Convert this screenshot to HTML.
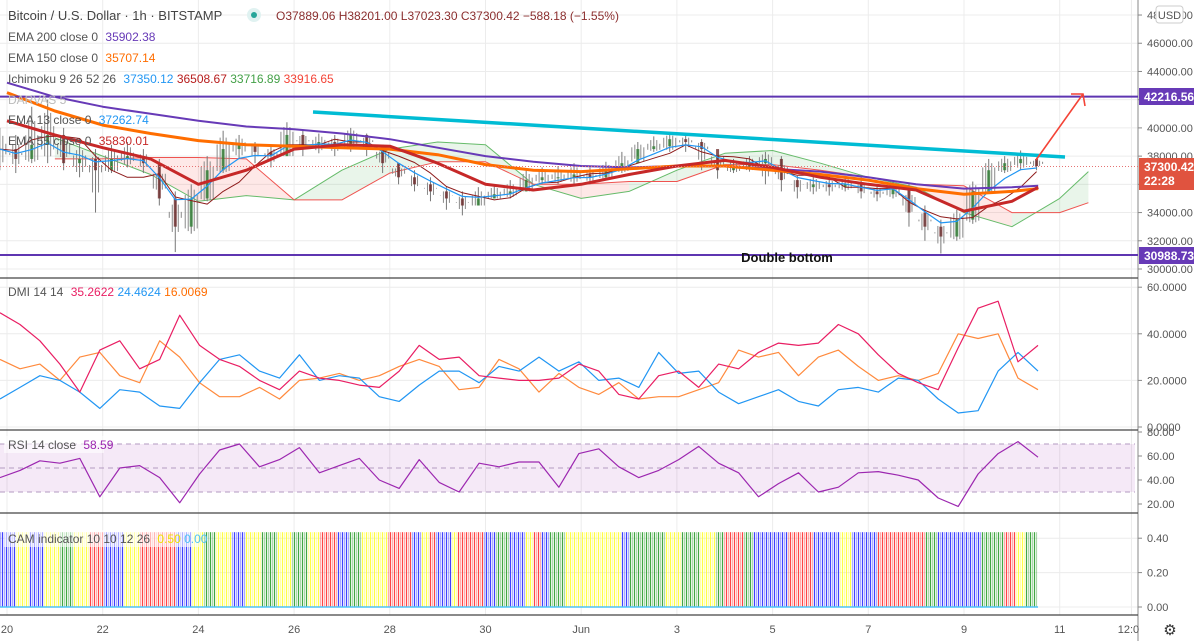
<!DOCTYPE html>
<html><head><meta charset="utf-8"><style>
html,body{margin:0;padding:0;background:#fff;}
svg{display:block;font-family:"Liberation Sans",sans-serif;}
</style></head><body>
<svg id="chart" width="1194" height="641" viewBox="0 0 1194 641" xmlns="http://www.w3.org/2000/svg">
<rect width="1194" height="641" fill="#fff"/>
<g id="grid"></g>
<g id="cloud"></g>
<g id="candles"></g>
<g id="lines"></g>
<g id="dmi"></g>
<g id="rsi"></g>
<g id="cam"></g>
<g id="axes"></g>
<g id="overlay">
  <line x1="0" y1="96.6" x2="1138" y2="96.6" stroke="#5e35b1" stroke-width="2"/>
  <line x1="0" y1="255" x2="1138" y2="255" stroke="#5e35b1" stroke-width="2"/>
  <line x1="0" y1="166.5" x2="1138" y2="166.5" stroke="#e57373" stroke-width="1" stroke-dasharray="1,2"/>
  <line x1="313" y1="112" x2="1065" y2="157" stroke="#00bcd4" stroke-width="3.5"/>
  <line x1="1036" y1="160" x2="1083" y2="94" stroke="#f44336" stroke-width="1.6"/>
  <polyline points="1071,94 1083,94 1085,106" fill="none" stroke="#f44336" stroke-width="1.6"/>
  <text x="787" y="262" text-anchor="middle" font-size="13" font-weight="bold" fill="#111">Double bottom</text>
</g>
<g id="legend" font-size="12">
  <text x="8" y="20" font-size="13" fill="#444">Bitcoin / U.S. Dollar · 1h · BITSTAMP</text>
  <circle cx="254" cy="15" r="7" fill="#e0f2f1"/>
  <circle cx="254" cy="15" r="3" fill="#26a69a"/>
  <text x="276" y="20" fill="#8b2e2e">O37889.06 H38201.00 L37023.30 C37300.42 −588.18 (−1.55%)</text>
  <text x="8" y="41" fill="#555">EMA 200 close 0 <tspan fill="#673ab7" dx="4">35902.38</tspan></text>
  <text x="8" y="62" fill="#555">EMA 150 close 0 <tspan fill="#ff6d00" dx="4">35707.14</tspan></text>
  <text x="8" y="83" fill="#555">Ichimoku 9 26 52 26 <tspan fill="#2196f3" dx="4">37350.12</tspan> <tspan fill="#b71c1c">36508.67</tspan> <tspan fill="#43a047">33716.89</tspan> <tspan fill="#f44336">33916.65</tspan></text>
  <text x="8" y="104" fill="#bbb">DARVAS 5</text>
  <text x="8" y="124" fill="#555">EMA 13 close 0 <tspan fill="#2196f3" dx="4">37262.74</tspan></text>
  <text x="8" y="145" fill="#555">EMA 55 close 0 <tspan fill="#c62828" dx="4">35830.01</tspan></text>
  <text x="8" y="296" fill="#555">DMI 14 14 <tspan fill="#e91e63" dx="4">35.2622</tspan> <tspan fill="#2196f3">24.4624</tspan> <tspan fill="#ff6d00">16.0069</tspan></text>
  <rect x="4" y="436" width="100" height="17" fill="#fff" opacity="0.6"/>
  <text x="8" y="449" fill="#555">RSI 14 close <tspan fill="#9c27b0" dx="4">58.59</tspan></text>
  <rect x="4" y="530" width="195" height="17" fill="#fff" opacity="0.6"/>
  <text x="8" y="543" fill="#555">CAM indicator 10 10 12 26 <tspan fill="#f0e000" dx="4">0.50</tspan> <tspan fill="#4fc3f7">0.00</tspan></text>
</g>
</svg>
<script>
// ---------- DATA ----------
const candleCloses = [38.5,37.8,38.8, 39.5,37.5,37.8, 37.0,37.8,38.0, 37.5,35.0,33.0, 35.0,37.0,38.5, 38.8,38.3,38.0, 39.5,38.8,39.0, 38.8,39.5,38.8, 37.5,36.5,36.0, 35.5,35.0,34.5, 35.0,35.3,35.5, 36.3,36.5,36.5, 36.7,36.5,37.0, 37.5,38.5,38.7, 39.2,39.0,38.5, 37.0,37.2,37.5, 37.8,36.3,35.8, 36.0,35.8,36.0, 35.5,35.3,35.8, 34.0,33.0,32.3, 33.5,35.5,37.0, 37.5,37.8,37.3];
const candleHighs = [40.0,39.5,41.5, 42.0,40.0,38.8, 38.5,38.8,39.0, 38.5,37.8,35.5, 36.0,38.0,39.8, 39.5,39.0,38.8, 40.4,39.8,39.6, 39.5,40.0,39.6, 38.8,37.5,37.0, 36.5,35.8,35.5, 35.8,36.0,36.3, 37.0,37.2,37.3, 37.5,37.2,37.6, 38.3,39.0,39.4, 39.6,39.5,39.2, 38.0,37.8,38.0, 38.3,38.0,36.6, 36.6,36.5,36.6, 36.5,36.0,36.3, 36.0,34.5,33.5, 34.2,36.2,37.8, 38.0,38.4,37.9];
const candleLows = [37.0,36.8,37.5, 37.5,37.0,36.5, 34.0,36.8,37.2, 36.8,34.5,31.2, 32.5,34.8,36.8, 37.8,37.5,37.2, 38.0,38.0,38.2, 38.0,38.3,38.0, 36.8,36.0,35.5, 34.8,34.2,33.8, 34.5,35.0,35.0, 35.5,36.0,36.0, 36.0,36.0,36.3, 36.8,38.0,38.3, 38.3,38.3,37.0, 36.4,36.8,36.9, 36.0,35.5,35.0, 35.3,35.2,35.5, 35.0,34.8,35.0, 33.0,32.0,31.1, 32.0,33.2,35.4, 36.8,37.0,37.0];
const emaDays = [0,1,2,3,4,5,6,7,8,9,10,11,12,13,14,15,16,17,18,19,20,21,21.55];
const ema200 = [43.2,42.2,41.5,41.0,40.5,40.1,39.9,39.6,39.2,38.6,38.0,37.6,37.3,37.2,37.3,37.3,37.1,36.9,36.5,36.0,35.7,35.8,35.9];
const ema150 = [42.5,41.2,40.2,39.6,39.1,38.8,38.7,38.6,38.5,38.1,37.4,37.0,36.9,37.1,37.3,37.3,37.0,36.7,36.3,35.7,35.3,35.5,35.7];
const ema55 = [40.5,39.5,38.6,37.8,36.0,37.0,38.5,38.8,38.7,37.5,36.0,35.6,36.0,36.7,37.3,37.7,37.2,36.5,36.0,35.6,34.1,34.8,35.8];
const cloudDays = [1,2,3,4,5,6,7,8,9,10,11,12,13,14,15,16,17,18,19,20,21,22,22.6];
const spanA = [39.3,38.0,36.7,34.8,35.2,34.9,37.0,38.5,39.0,38.8,36.0,35.0,35.5,37.0,38.2,38.4,37.5,36.5,35.8,34.0,33.0,35.0,36.9];
const spanB = [37.8,37.8,37.9,37.9,37.8,34.9,34.9,36.8,37.6,37.6,36.0,36.0,36.2,36.2,37.4,37.4,37.0,36.5,36.0,35.9,34.0,34.0,34.7];
const diPlus = [49,44,37,27,15,33,37,25,29,48,35,29,26,20,16,24,21,20,18,17,24,35,29,30,22,21,20,20,21,27,24,14,12,22,24,17,27,25,32,36,35,36,44,40,31,23,19,16,34,51,54,28,35];
const diMinus = [12,17,22,20,15,8,16,15,9,8,19,29,31,24,21,31,20,22,21,13,11,18,24,24,19,26,24,30,24,28,20,21,17,32,23,24,15,10,13,16,11,9,16,17,15,21,20,12,6,7,24,32,24];
const adx = [29,25,27,20,30,32,22,19,37,30,19,13,13,17,12,20,21,23,20,22,26,29,26,16,17,29,25,15,23,17,14,19,12,13,13,16,19,33,30,32,22,30,33,26,20,22,20,23,40,38,40,21,16];
const rsiVals = [42,48,56,54,58,26,50,52,42,21,45,65,70,51,57,67,46,52,58,40,33,57,38,30,54,51,55,55,34,62,66,51,42,48,57,68,54,46,26,37,46,30,34,46,47,44,40,25,18,45,62,72,59];
const camRunStates = ['B','Y','B','Y','G','Y','R','B','Y','R','B','Y','G','Y','B','Y','G','Y','G','Y','R','B','G','Y','R','B','Y','R','B','Y','R','B','G','B','Y','R','B','G','Y','B','G','Y','G','Y','G','R','G','B','R','B','Y','B','R','G','B','G','R','Y','G'];
const camRunHours = [8,7,7,8,7,8,7,10,8,18,8,6,6,8,7,8,8,7,8,6,9,6,6,13,12,5,4,3,8,3,13,6,7,8,4,4,4,8,28,4,18,8,9,8,4,10,5,17,13,13,6,13,24,6,22,11,6,5,6];
const priceTicks = [30000,32000,34000,36000,38000,40000,42000,44000,46000,48000];
const dmiTicks = [0,20,40,60];
const rsiTicks = [20,40,60,80];
const camTicks = [0,0.2,0.4];
const dateLabels = ['20','22','24','26','28','30','Jun','3','5','7','9','11','12:00'];
const dateDays = [0,2,4,6,8,10,12,14,16,18,20,22,23.5];

// ---------- SCALES ----------
const NS='http://www.w3.org/2000/svg';
const X0=7, PXDAY=47.85, AXIS_X=1138;
const xDay = d => X0 + d*PXDAY;
const yPrice = p => 269 - (p-30)*14.11;
const yDmi = v => 427 - v*2.33;
const yRsi = v => 528 - v*1.2;
const yCam = v => 607 - v*172;
const xGrid = k => k*1038/52;
const candleT = i => i/3 - 0.15;
function mk(tag, attrs, parent){const e=document.createElementNS(NS,tag);for(const k in attrs)e.setAttribute(k,attrs[k]);parent.appendChild(e);return e;}
const G = id => document.getElementById(id);

// derived indicators from candle data
const ema13 = [];
candleCloses.forEach((c,i)=>{ema13.push(i===0?c:ema13[i-1]+0.45*(c-ema13[i-1]));});
const kijun = candleCloses.map((c,i)=>{const s=Math.max(0,i-3);const hs=candleHighs.slice(s,i+1),ls=candleLows.slice(s,i+1);return (Math.max(...hs)+Math.min(...ls))/2;});

// grid
const grid=G('grid');
dateDays.forEach(d=>{const l=mk('line',{x1:xDay(d),x2:xDay(d),y1:0,y2:615,stroke:'#ececec'},grid);

});
priceTicks.forEach(p=>{const l=mk('line',{x1:0,x2:AXIS_X,y1:yPrice(p/1000),y2:yPrice(p/1000),stroke:'#ececec'},grid);

});
dmiTicks.forEach(v=>mk('line',{x1:0,x2:AXIS_X,y1:yDmi(v),y2:yDmi(v),stroke:'#ececec'},grid));
camTicks.forEach(v=>mk('line',{x1:0,x2:AXIS_X,y1:yCam(v),y2:yCam(v),stroke:'#ececec'},grid));
const rb=mk('rect',{x:0,y:yRsi(70),width:AXIS_X-3,height:yRsi(30)-yRsi(70),fill:'#9c27b0','fill-opacity':0.1},grid);


[70,50,30].forEach(v=>mk('line',{x1:0,x2:AXIS_X-3,y1:yRsi(v),y2:yRsi(v),stroke:'#b39ac0','stroke-dasharray':'5,4'},grid));

// cloud
const cloud=G('cloud');
for(let i=0;i<cloudDays.length-1;i++){
  const x1=xDay(cloudDays[i]),x2=xDay(cloudDays[i+1]);
  const up=(spanA[i]+spanA[i+1])>=(spanB[i]+spanB[i+1]);
  const p=mk('polygon',{points:`${x1},${yPrice(spanA[i])} ${x2},${yPrice(spanA[i+1])} ${x2},${yPrice(spanB[i+1])} ${x1},${yPrice(spanB[i])}`,fill:up?'#4caf50':'#f44336','fill-opacity':0.12},cloud);
  
  
}
function poly(parent,xs,ys,color,w,name){
  const pts=xs.map((x,i)=>x.toFixed(1)+','+ys[i].toFixed(1)).join(' ');
  const e=mk('polyline',{points:pts,fill:'none',stroke:color,'stroke-width':w,'stroke-linejoin':'round'},parent);
  
  
  return e;
}
poly(cloud,cloudDays.map(xDay),spanA.map(yPrice),'#66bb6a',1,'ichimoku-span-a');
poly(cloud,cloudDays.map(xDay),spanB.map(yPrice),'#ef5350',1,'ichimoku-span-b');

// candles
const cg=G('candles');
candleCloses.forEach((c,i)=>{
  const x=xDay(candleT(i));
  const o=i>0?candleCloses[i-1]:c;
  const col=c>=o?'#2e7d32':'#6d2b2b';
  [-6,-3,3,6].forEach(dx=>{const f=Math.abs(dx)/8;
    mk('line',{x1:x+dx,x2:x+dx,y1:yPrice(c+(candleHighs[i]-c)*(1-f)),y2:yPrice(o-(o-candleLows[i])*(1-f)),stroke:'#8a8a8a','stroke-width':1},cg);});
  const w=mk('line',{x1:x,x2:x,y1:yPrice(candleHighs[i]),y2:yPrice(candleLows[i]),stroke:'#777','stroke-width':1},cg);
  
  
  const top=Math.min(yPrice(o),yPrice(c)),h=Math.max(1,Math.abs(yPrice(o)-yPrice(c)));
  const b=mk('rect',{x:x-1.5,y:top,width:3,height:h,fill:col,'fill-opacity':0.8},cg);
  
  
});

// lines
const lg=G('lines');
const cx=candleCloses.map((_,i)=>xDay(candleT(i)));
poly(lg,cx,kijun.map(yPrice),'#8e1b1b',1,'ichimoku-base-line');
poly(lg,cx,ema13.map(yPrice),'#2196f3',1.2,'ema13-line');
poly(lg,emaDays.map(xDay),ema200.map(yPrice),'#673ab7',2,'ema200-line');
poly(lg,emaDays.map(xDay),ema150.map(yPrice),'#ff6d00',3,'ema150-line');
poly(lg,emaDays.map(xDay),ema55.map(yPrice),'#c62828',3,'ema55-line');

// dmi
const dg=G('dmi');
const gx=diPlus.map((_,k)=>xGrid(k));
poly(dg,gx,adx.map(yDmi),'#ff8a3d',1.2,'dmi-adx-line');
poly(dg,gx,diMinus.map(yDmi),'#2196f3',1.2,'dmi-minus-line');
poly(dg,gx,diPlus.map(yDmi),'#e91e63',1.2,'dmi-plus-line');

// rsi
poly(G('rsi'),rsiVals.map((_,k)=>xGrid(k)),rsiVals.map(yRsi),'#9c27b0',1.2,'rsi-line');

// cam
const camColors={B:'#2b2bff',G:'#2e9e2e',R:'#ff3030',Y:'#ffff30'};
const camg=G('cam');
let hr=0;
camRunStates.forEach((s,r)=>{
  for(let h=0;h<camRunHours[r];h++){
    const x=(hr+h)*2+0.5;
    const l=mk('line',{x1:x,x2:x,y1:yCam(0.435),y2:yCam(0),stroke:camColors[s],'stroke-width':1.2,'stroke-opacity':((hr+h)%2)?0.9:0.4},camg);
    
    
  }
  hr+=camRunHours[r];
});
mk('line',{x1:0,x2:hr*2,y1:yCam(0),y2:yCam(0),stroke:'#4fc3f7','stroke-width':1.5},camg);

// axes
const ax=G('axes');
mk('line',{x1:AXIS_X,x2:AXIS_X,y1:0,y2:641,stroke:'#888'},ax);
[278,430,513,615].forEach(y=>{const l=mk('line',{x1:0,x2:AXIS_X,y1:y,y2:y,stroke:'#444','stroke-width':1.2},ax);

});
function tick(y,label,name){
  mk('line',{x1:AXIS_X,x2:AXIS_X+4,y1:y,y2:y,stroke:'#888'},ax);
  const t=mk('text',{x:AXIS_X+9,y:y+4,'font-size':11,fill:'#555'},ax);t.textContent=label;
  
  
}
priceTicks.forEach(p=>tick(yPrice(p/1000),p.toFixed(2),'price-tick-label'));
dmiTicks.forEach(v=>tick(yDmi(v),v.toFixed(4),'dmi-tick-label'));
rsiTicks.forEach(v=>tick(yRsi(v),v.toFixed(2),'rsi-tick-label'));
camTicks.forEach(v=>tick(yCam(v),v.toFixed(2),'cam-tick-label'));
dateLabels.forEach((lab,i)=>{
  const t=mk('text',{x:xDay(dateDays[i]),y:633,'font-size':11,fill:'#555','text-anchor':'middle'},ax);t.textContent=lab;
  
  
});
mk('rect',{x:AXIS_X+1,y:624,width:55,height:17,fill:'#fff'},ax);
const gear=mk('text',{x:1170,y:635,'font-size':15,fill:'#333','text-anchor':'middle'},ax);gear.textContent='⚙';


const ub=mk('rect',{x:1156,y:6,width:27,height:17,rx:3,fill:'#fff',stroke:'#ccc'},ax);


const ut=mk('text',{x:1169.5,y:19,'font-size':11,fill:'#555','text-anchor':'middle'},ax);ut.textContent='USD';
function badge(y,h,color,lines,name){
  const r=mk('rect',{x:AXIS_X+1,y:y,width:55,height:h,fill:color},ax);
  
  
  lines.forEach((s,i)=>{const t=mk('text',{x:AXIS_X+6,y:y+13+i*14,'font-size':12,'font-weight':'bold',fill:'#fff'},ax);t.textContent=s;});
}
badge(88,17,'#673ab7',['42216.56'],'resistance-price-label');
badge(158,32,'#e0533f',['37300.42','22:28'],'last-price-label');
badge(247,17,'#673ab7',['30988.73'],'support-price-label');
</script>
</body></html>
